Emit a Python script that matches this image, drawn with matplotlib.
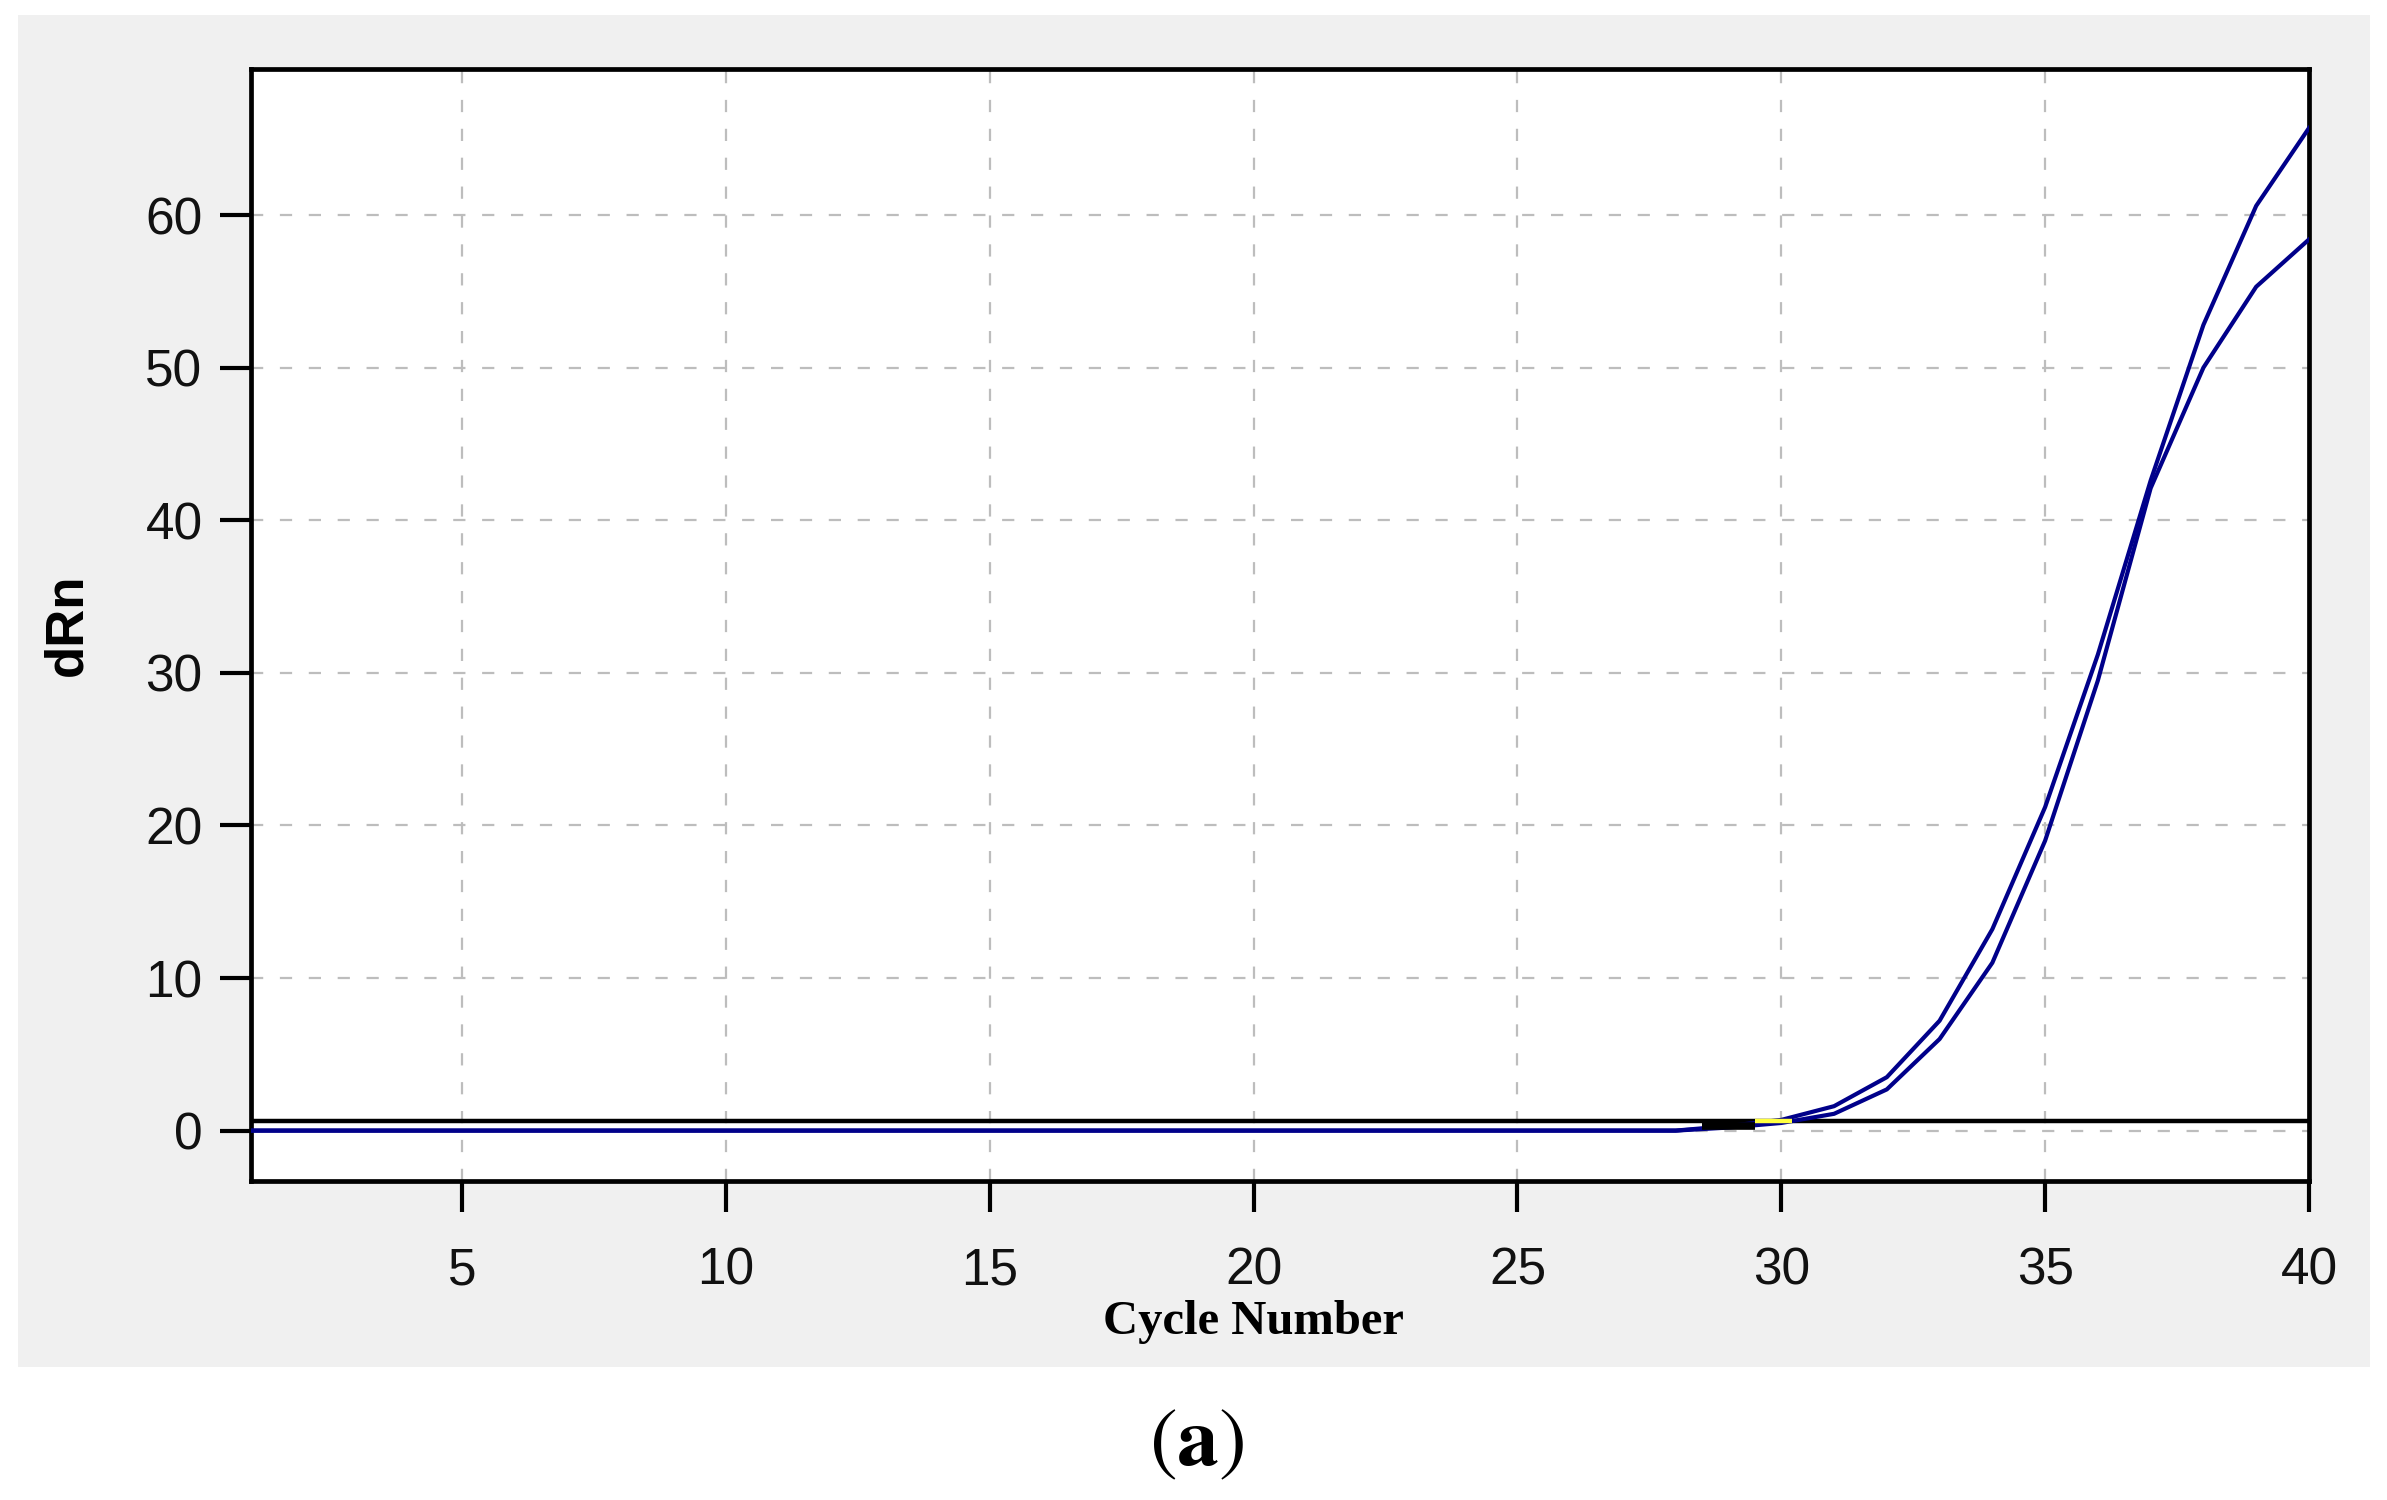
import matplotlib
matplotlib.use("Agg")
import matplotlib.pyplot as plt
from matplotlib.patches import Rectangle

# qPCR amplification data (dRn per cycle)
cycles = list(range(1, 41))
flat = [0.0] * 28
curve_a = flat + [0.3, 0.7, 1.6, 3.5, 7.2, 13.2, 21.2, 31.2, 42.6, 52.8, 60.6, 65.7]
curve_b = flat + [0.2, 0.5, 1.1, 2.7, 6.0, 11.0, 19.0, 29.5, 42.1, 50.0, 55.3, 58.4]

threshold = 0.6
# highlighted pieces near the Ct crossing
black_span = [28.5, 29.5]
black_level = [0.3, 0.3]
yellow_span = [29.5, 30.2]

xticks = [5, 10, 15, 20, 25, 30, 35, 40]
yticks = [0, 10, 20, 30, 40, 50, 60]

plt.rcParams["mathtext.fontset"] = "stix"

fig = plt.figure(figsize=(23.87, 15), dpi=100)
fig.patch.set_facecolor("white")
fig.patches.append(Rectangle((0.0075, 0.0887), 0.9855, 0.9013, transform=fig.transFigure,
                             facecolor="#f0f0f0", edgecolor="none", zorder=-1))

ax = fig.add_axes([0.1052, 0.2127, 0.8621, 0.7416])
ax.set_zorder(1)
ax.set_facecolor("white")

ax.axhline(threshold, color="black", lw=3.2, zorder=2)
ax.plot(cycles, curve_a, color="#00008a", lw=3, zorder=3)
ax.plot(cycles, curve_b, color="#00008a", lw=3, zorder=3)
ax.plot(black_span, black_level, color="black", lw=5.5, zorder=4, solid_capstyle="butt")
ax.plot(yellow_span, [threshold, threshold], color="#ffff40", lw=3.2, zorder=4, solid_capstyle="butt")

ax.set_xlim(1, 40)
ax.set_ylim(-3.3, 69.6)
ax.set_xticks(xticks)
ax.set_yticks(yticks)

ax.grid(True, color="#bdbdbd", linestyle=(0, (5.5, 7.5)), linewidth=1.6, zorder=1)
ax.set_axisbelow(True)

for s in ax.spines.values():
    s.set_linewidth(3.4)
    s.set_color("black")

ax.tick_params(axis="both", direction="out", length=22, width=3, color="black",
               labelsize=37, labelcolor="#111111")
ax.tick_params(axis="x", pad=25)
ax.tick_params(axis="y", pad=13)
for lab in ax.get_xticklabels() + ax.get_yticklabels():
    lab.set_fontfamily("Liberation Sans")

ax.set_ylabel("dRn", fontsize=38, fontweight="bold", family="Liberation Sans", labelpad=38)
fig.text(0.5253, 0.1187, "Cycle Number", fontsize=35, fontweight="bold",
         family="Liberation Serif", ha="center", va="center")
fig.text(0.5013, 0.0387, r"$(\mathbf{a})$", fontsize=60, ha="center", va="center")

fig.savefig("out.png", dpi=100)
